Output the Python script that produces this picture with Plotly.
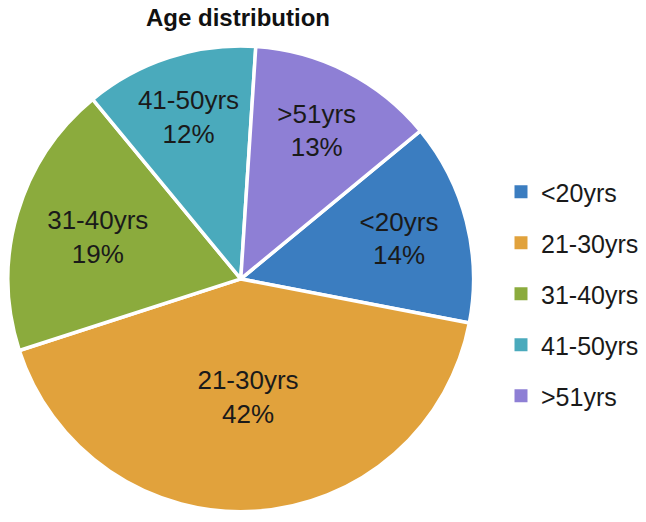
import plotly.graph_objects as go

categories = ["<20yrs", "21-30yrs", "31-40yrs", "41-50yrs", ">51yrs"]
values = [14, 42, 19, 12, 13]
colors = ["#3b7dc0", "#e1a23c", "#8bab3d", "#4aaabc", "#8e7fd5"]

fig = go.Figure()
fig.add_trace(go.Pie(
    labels=categories,
    values=values,
    sort=False,
    direction="clockwise",
    rotation=50.5,
    marker=dict(colors=colors, line=dict(color="white", width=3.5)),
    texttemplate="%{label}<br>%{percent:.0%}",
    textposition="inside",
    insidetextorientation="horizontal",
    textfont=dict(family="Liberation Sans, Arial, sans-serif", size=26, color="#1a1a1a"),
    showlegend=False,
    hoverinfo="label+percent",
    domain=dict(x=[0.0, 0.7207], y=[0.0255, 0.9365]),
))

# legend entries (one per category so spacing can match the reference)
for cat, col in zip(categories, colors):
    fig.add_trace(go.Scatter(
        x=[None], y=[None], mode="markers", name=cat,
        marker=dict(symbol="square", size=13, color=col),
        legendgroup=cat, showlegend=True, hoverinfo="skip",
    ))

fig.update_layout(
    width=646, height=522,
    margin=dict(l=0, r=0, t=0, b=0, autoexpand=False),
    paper_bgcolor="white", plot_bgcolor="white",
    title=dict(text="<b>Age distribution</b>", x=230 / 646, xanchor="center",
               y=1 - 10 / 522, yanchor="middle",
               font=dict(family="Liberation Sans, Arial, sans-serif", size=24, color="#111111")),
    xaxis=dict(visible=False, domain=[0.99, 1.0]),
    yaxis=dict(visible=False, domain=[0.99, 1.0]),
    legend=dict(x=493 / 646, xanchor="left", y=1 - 286 / 522, yanchor="middle",
                font=dict(family="Liberation Sans, Arial, sans-serif", size=25, color="#1a1a1a"),
                tracegroupgap=15.5, itemwidth=30, bgcolor="rgba(0,0,0,0)"),
)

fig.write_html("out.html")
